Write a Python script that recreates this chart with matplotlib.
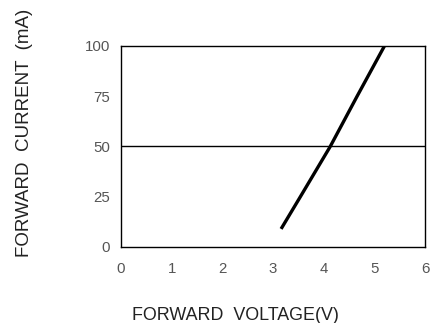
import matplotlib
matplotlib.use("Agg")
import matplotlib.pyplot as plt

# forward voltage (V) vs forward current (mA)
voltaje = [3.16, 3.54, 4.13, 4.66, 5.20]
corriente = [9, 25, 50, 75, 100]

xticks = [0, 1, 2, 3, 4, 5, 6]
yticks = [0, 25, 50, 75, 100]

plt.rcParams['font.family'] = ['Liberation Sans', 'DejaVu Sans']

fig = plt.figure(figsize=(4.33, 3.23), dpi=100)
ax = fig.add_axes([0.2794, 0.2353, 0.7021, 0.6223])

ax.plot(voltaje, corriente, color='black', linewidth=2.4, solid_capstyle='butt')
ax.axhline(50, color='black', linewidth=1.0)

ax.set_xlim(0, 6)
ax.set_ylim(0, 100)
ax.set_xticks(xticks)
ax.set_yticks(yticks)
ax.tick_params(length=0, labelsize=10.8, labelcolor='#555555')
ax.tick_params(axis='x', pad=10.5)
ax.tick_params(axis='y', pad=8)
for s in ax.spines.values():
    s.set_linewidth(1.0)

ax.set_xlabel('FORWARD  VOLTAGE(V)', fontsize=12.9, color='#222222')
ax.set_ylabel('FORWARD  CURRENT  (mA)', fontsize=13.5, color='#222222')
ax.xaxis.set_label_coords(0.375, -0.30)
ax.yaxis.set_label_coords(-0.29, 0.567)

fig.savefig('out.png', dpi=100)
